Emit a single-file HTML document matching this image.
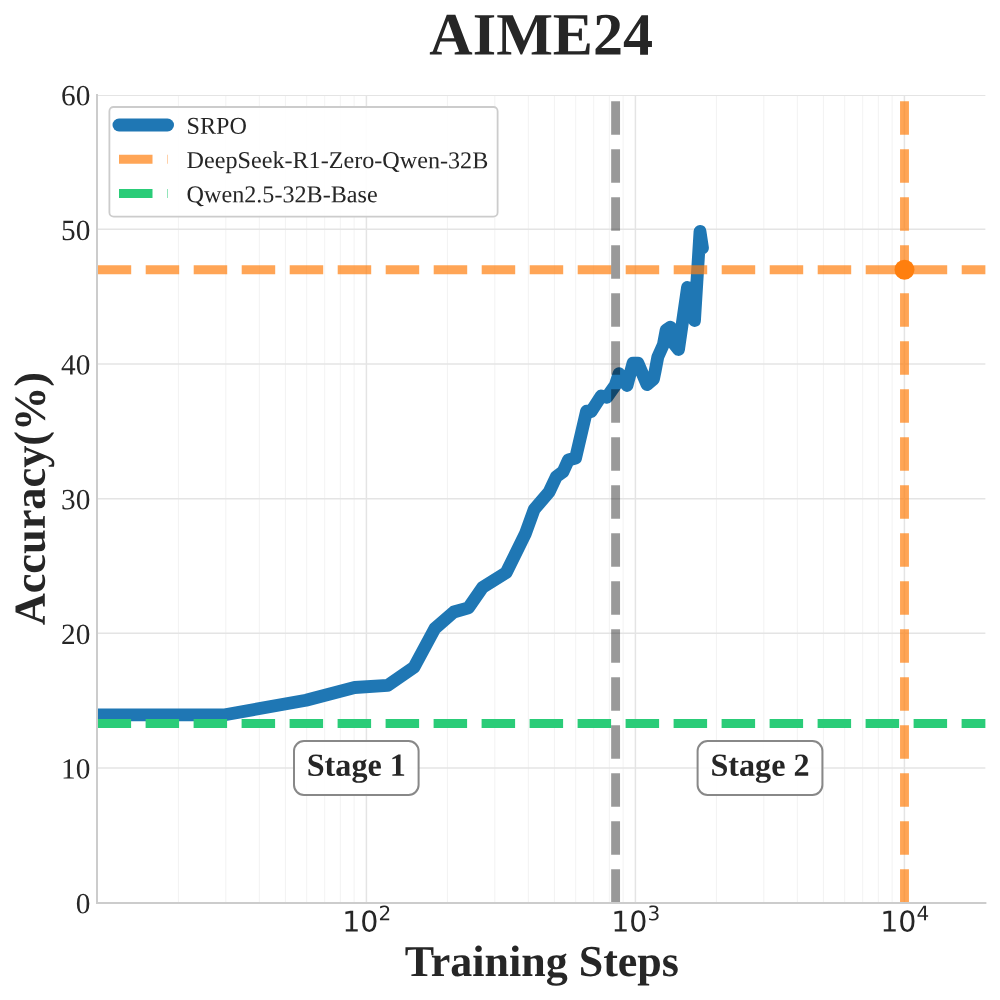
<!DOCTYPE html>
<html lang="en"><head><meta charset="utf-8"><title>AIME24</title>
<style>html,body{margin:0;padding:0;background:#fff}body{width:1000px;height:1000px;overflow:hidden}svg{display:block}text{text-rendering:geometricPrecision}.s{font-family:"Liberation Serif",serif;fill:#262626}.d{font-family:"DejaVu Sans",sans-serif;fill:#262626}.b{font-weight:bold}</style></head><body>
<svg width="1000" height="1000" viewBox="0 0 1000 1000">
<rect width="1000" height="1000" fill="#fff"/>
<defs><clipPath id="ax"><rect x="97.40" y="94.60" width="887.98" height="808.10"/></clipPath></defs>
<g stroke="#f1f1f1" stroke-width="0.9" fill="none">
<line x1="178.38" y1="95" x2="178.38" y2="902.70"/>
<line x1="225.75" y1="95" x2="225.75" y2="902.70"/>
<line x1="259.35" y1="95" x2="259.35" y2="902.70"/>
<line x1="285.42" y1="95" x2="285.42" y2="902.70"/>
<line x1="306.72" y1="95" x2="306.72" y2="902.70"/>
<line x1="324.73" y1="95" x2="324.73" y2="902.70"/>
<line x1="340.33" y1="95" x2="340.33" y2="902.70"/>
<line x1="354.09" y1="95" x2="354.09" y2="902.70"/>
<line x1="447.38" y1="95" x2="447.38" y2="902.70"/>
<line x1="494.75" y1="95" x2="494.75" y2="902.70"/>
<line x1="528.35" y1="95" x2="528.35" y2="902.70"/>
<line x1="554.42" y1="95" x2="554.42" y2="902.70"/>
<line x1="575.72" y1="95" x2="575.72" y2="902.70"/>
<line x1="593.73" y1="95" x2="593.73" y2="902.70"/>
<line x1="609.33" y1="95" x2="609.33" y2="902.70"/>
<line x1="623.09" y1="95" x2="623.09" y2="902.70"/>
<line x1="716.38" y1="95" x2="716.38" y2="902.70"/>
<line x1="763.75" y1="95" x2="763.75" y2="902.70"/>
<line x1="797.35" y1="95" x2="797.35" y2="902.70"/>
<line x1="823.42" y1="95" x2="823.42" y2="902.70"/>
<line x1="844.72" y1="95" x2="844.72" y2="902.70"/>
<line x1="862.73" y1="95" x2="862.73" y2="902.70"/>
<line x1="878.33" y1="95" x2="878.33" y2="902.70"/>
<line x1="892.09" y1="95" x2="892.09" y2="902.70"/>
</g>
<g stroke="#e4e4e4" stroke-width="1.5" fill="none">
<line x1="366.40" y1="95" x2="366.40" y2="902.70"/>
<line x1="635.40" y1="95" x2="635.40" y2="902.70"/>
<line x1="904.40" y1="95" x2="904.40" y2="902.70"/>
<line x1="97.40" y1="768.02" x2="985.38" y2="768.02"/>
<line x1="97.40" y1="633.33" x2="985.38" y2="633.33"/>
<line x1="97.40" y1="498.65" x2="985.38" y2="498.65"/>
<line x1="97.40" y1="363.97" x2="985.38" y2="363.97"/>
<line x1="97.40" y1="229.28" x2="985.38" y2="229.28"/>
<line x1="97.40" y1="95.45" x2="985.38" y2="95.45" stroke-width="1.1"/>
</g>
<g clip-path="url(#ax)">
<polyline points="90.0,714.8 225.0,714.8 306.0,700.2 354.6,687.5 387.6,685.4 414.0,667.2 435.0,628.3 453.8,612.0 468.4,607.8 482.6,587.4 506.2,572.6 525.4,533.6 534.2,509.4 549.2,491.8 556.4,476.6 563.0,471.8 568.4,460.0 575.6,458.0 586.5,411.2 591.0,411.8 601.2,396.0 606.8,397.3 615.3,385.2 619.0,373.7 627.0,385.5 633.0,363.2 638.0,363.2 647.0,384.5 653.5,379.0 655.1,371.2 657.8,357.0 663.4,344.5 666.1,330.1 670.5,327.2 672.8,342.3 678.5,349.5 687.5,287.5 694.5,320.5 700.0,231.5 702.5,248.0" fill="none" stroke="#1f77b4" stroke-width="12.8" stroke-linejoin="round" stroke-linecap="round"/>
<line x1="97.70" y1="269.69" x2="990.38" y2="269.69" stroke="#ff7f0e" stroke-opacity="0.7" stroke-width="8.9" stroke-dasharray="33.5 14.5"/>
<line x1="97.60" y1="723.57" x2="990.38" y2="723.57" stroke="#2acc78" stroke-width="8.9" stroke-dasharray="33.5 14.5"/>
<line x1="615.60" y1="902.70" x2="615.60" y2="89.60" stroke="#000" stroke-opacity="0.4" stroke-width="8.9" stroke-dasharray="33.5 14.5"/>
<line x1="904.50" y1="902.70" x2="904.50" y2="89.60" stroke="#ff7f0e" stroke-opacity="0.7" stroke-width="8.9" stroke-dasharray="33.5 14.5"/>
<circle cx="904.50" cy="269.69" r="10" fill="#ff7f0e"/>
</g>
<path d="M97 94.1V903H986.4" fill="none" stroke="#cccccc" stroke-width="2"/>
<rect x="294" y="741" width="124.6" height="54.0" rx="10" ry="10" fill="#fff" fill-opacity="0.9" stroke="#888" stroke-width="2"/>
<text class="s b" x="356.3" y="775.7" font-size="32.2" text-anchor="middle" transform="rotate(0.03 356.3 775.7)">Stage 1</text>
<rect x="697.6" y="741" width="124.8" height="54.0" rx="10" ry="10" fill="#fff" fill-opacity="0.9" stroke="#888" stroke-width="2"/>
<text class="s b" x="760.0" y="775.7" font-size="32.2" text-anchor="middle" transform="rotate(0.03 760.0 775.7)">Stage 2</text>
<rect x="109.4" y="107" width="388.2" height="109.6" rx="4.2" ry="4.2" fill="#fff" fill-opacity="0.9" stroke="#cccccc" stroke-width="1.8"/>
<line x1="119" y1="125" x2="167.5" y2="125" stroke="#1f77b4" stroke-width="13" stroke-linecap="round"/>
<line x1="119" y1="159.3" x2="167.5" y2="159.3" stroke="#ff7f0e" stroke-opacity="0.7" stroke-width="8.9" stroke-dasharray="33.5 14.5"/>
<line x1="119" y1="193.5" x2="167.5" y2="193.5" stroke="#2acc78" stroke-width="8.9" stroke-dasharray="33.5 14.5"/>
<text class="s" x="186.6" y="133.7" font-size="24.15" transform="rotate(0.03 186.6 133.7)">SRPO</text>
<text class="s" x="186.6" y="168.0" font-size="24.15" transform="rotate(0.03 186.6 168.0)">DeepSeek-R1-Zero-Qwen-32B</text>
<text class="s" x="186.6" y="202.2" font-size="24.15" transform="rotate(0.03 186.6 202.2)">Qwen2.5-32B-Base</text>
<text class="s" x="90.3" y="913.3" font-size="29.3" text-anchor="end" transform="rotate(0.03 90.3 913.3)">0</text>
<text class="s" x="90.3" y="778.6" font-size="29.3" text-anchor="end" transform="rotate(0.03 90.3 778.6)">10</text>
<text class="s" x="90.3" y="643.9" font-size="29.3" text-anchor="end" transform="rotate(0.03 90.3 643.9)">20</text>
<text class="s" x="90.3" y="509.3" font-size="29.3" text-anchor="end" transform="rotate(0.03 90.3 509.3)">30</text>
<text class="s" x="90.3" y="374.6" font-size="29.3" text-anchor="end" transform="rotate(0.03 90.3 374.6)">40</text>
<text class="s" x="90.3" y="239.9" font-size="29.3" text-anchor="end" transform="rotate(0.03 90.3 239.9)">50</text>
<text class="s" x="90.3" y="105.2" font-size="29.3" text-anchor="end" transform="rotate(0.03 90.3 105.2)">60</text>
<text class="d" x="342.2" y="931.5" font-size="28.5" transform="rotate(0.03 342.2 931.5)">10<tspan dy="-11.2" font-size="20">2</tspan></text>
<text class="d" x="611.2" y="931.5" font-size="28.5" transform="rotate(0.03 611.2 931.5)">10<tspan dy="-11.2" font-size="20">3</tspan></text>
<text class="d" x="880.2" y="931.5" font-size="28.5" transform="rotate(0.03 880.2 931.5)">10<tspan dy="-11.2" font-size="20">4</tspan></text>
<text class="s b" x="541.2" y="54.6" font-size="60.1" text-anchor="middle" transform="rotate(0.03 541.2 54.6)">AIME24</text>
<text class="s b" x="541.8" y="976.0" font-size="44" text-anchor="middle" transform="rotate(0.03 541.8 976.0)">Training Steps</text>
<text class="s b" transform="translate(44.8 498.6) rotate(-89.97)" font-size="44.3" text-anchor="middle">Accuracy(%)</text>
</svg></body></html>
